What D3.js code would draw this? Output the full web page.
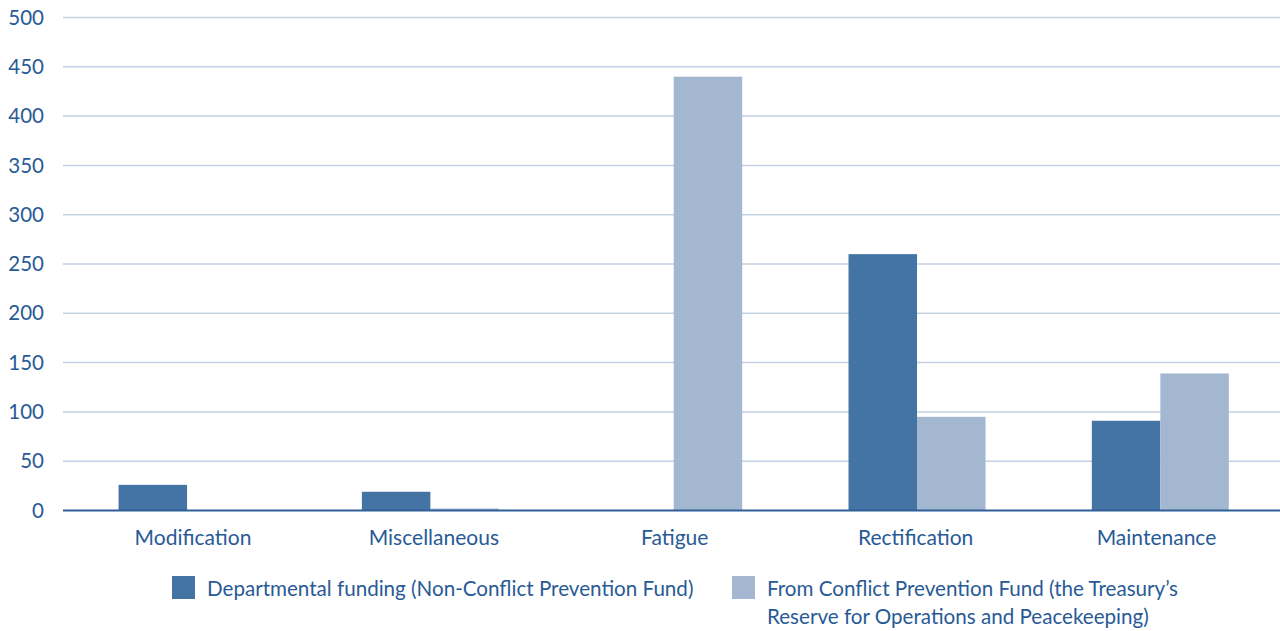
<!DOCTYPE html>
<html>
<head>
<meta charset="utf-8">
<script src="https://cdn.jsdelivr.net/npm/d3@7/dist/d3.min.js"></script>
<style>
  html, body { margin: 0; padding: 0; background: #ffffff; }
  svg { display: block; }
  text { font-family: Lato, "Open Sans", sans-serif; fill: #285a96; }
</style>
</head>
<body>
<svg id="chart" width="1280" height="631"></svg>
<script>
// Categories along the x axis
const categories = ["Modification", "Miscellaneous", "Fatigue", "Rectification", "Maintenance"];
// Series names (legend text)
const seriesNames = [
  "Departmental funding (Non-Conflict Prevention Fund)",
  "From Conflict Prevention Fund (the Treasury\u2019s Reserve for Operations and Peacekeeping)"
];
// Values per series, in category order
const departmental = [26, 19, 0, 260, 91];
const conflictFund = [0, 2, 440, 95, 139];
// Y axis ticks
const yTicks = [0, 50, 100, 150, 200, 250, 300, 350, 400, 450, 500];

const seriesColors = ["#4474a4", "#a3b8d0"];
const seriesValues = [departmental, conflictFund];

const svg = d3.select("#chart");
const plot = { left: 63, right: 1280, top: 17.5, bottom: 510.5 };

const y = d3.scaleLinear().domain([0, 500]).range([plot.bottom, plot.top]);

const x0 = d3.scaleBand().domain(categories).range([65.4, 1282]).padding(0);
const bw = x0.bandwidth();
const x1 = d3.scaleBand().domain(d3.range(seriesNames.length))
  .range([bw / 2 - 68.5, bw / 2 + 68.5]).padding(0);
// Category label anchors
const xLabel = d3.scalePoint().domain(categories).range([193, 1156.5]);

// Horizontal gridlines
svg.append("g")
  .selectAll("line")
  .data(yTicks.filter(d => d !== 0))
  .join("line")
  .attr("x1", plot.left)
  .attr("x2", plot.right)
  .attr("y1", d => y(d))
  .attr("y2", d => y(d))
  .attr("stroke", "#c2d1e1")
  .attr("stroke-width", 1.5);

// Y axis labels
svg.append("g")
  .selectAll("text")
  .data(yTicks)
  .join("text")
  .attr("x", 44)
  .attr("y", d => y(d))
  .attr("dy", "0.35em")
  .attr("text-anchor", "end")
  .attr("font-size", 20.5)
  .text(d => d);

// Bars
const groups = svg.append("g")
  .selectAll("g")
  .data(categories)
  .join("g")
  .attr("transform", d => `translate(${x0(d)},0)`);

groups.selectAll("rect")
  .data((d, i) => seriesValues.map((vals, s) => ({ s, v: vals[i] })))
  .join("rect")
  .attr("x", d => x1(d.s))
  .attr("width", x1.bandwidth())
  .attr("y", d => y(d.v))
  .attr("height", d => y(0) - y(d.v))
  .attr("fill", d => seriesColors[d.s]);

// Zero baseline
svg.append("line")
  .attr("x1", plot.left)
  .attr("x2", plot.right)
  .attr("y1", y(0))
  .attr("y2", y(0))
  .attr("stroke", "#2f5f98")
  .attr("stroke-width", 2);

// Category labels
svg.append("g")
  .selectAll("text")
  .data(categories)
  .join("text")
  .attr("x", d => xLabel(d))
  .attr("y", 538)
  .attr("dy", "0.35em")
  .attr("text-anchor", "middle")
  .attr("font-size", 21)
  .text(d => d);

// Legend
const legendItems = [
  { x: 172, lines: [seriesNames[0]] },
  { x: 732, lines: ["From Conflict Prevention Fund (the Treasury\u2019s", "Reserve for Operations and Peacekeeping)"] }
];
const legend = svg.append("g");
legendItems.forEach((item, i) => {
  legend.append("rect")
    .attr("x", item.x)
    .attr("y", 576)
    .attr("width", 23)
    .attr("height", 23)
    .attr("fill", seriesColors[i]);
  const t = legend.append("text")
    .attr("x", item.x + 35)
    .attr("y", 589)
    .attr("font-size", 20.6);
  item.lines.forEach((ln, j) => {
    t.append("tspan")
      .attr("x", item.x + 35)
      .attr("dy", j === 0 ? "0.35em" : 28)
      .text(ln);
  });
});
</script>
</body>
</html>
